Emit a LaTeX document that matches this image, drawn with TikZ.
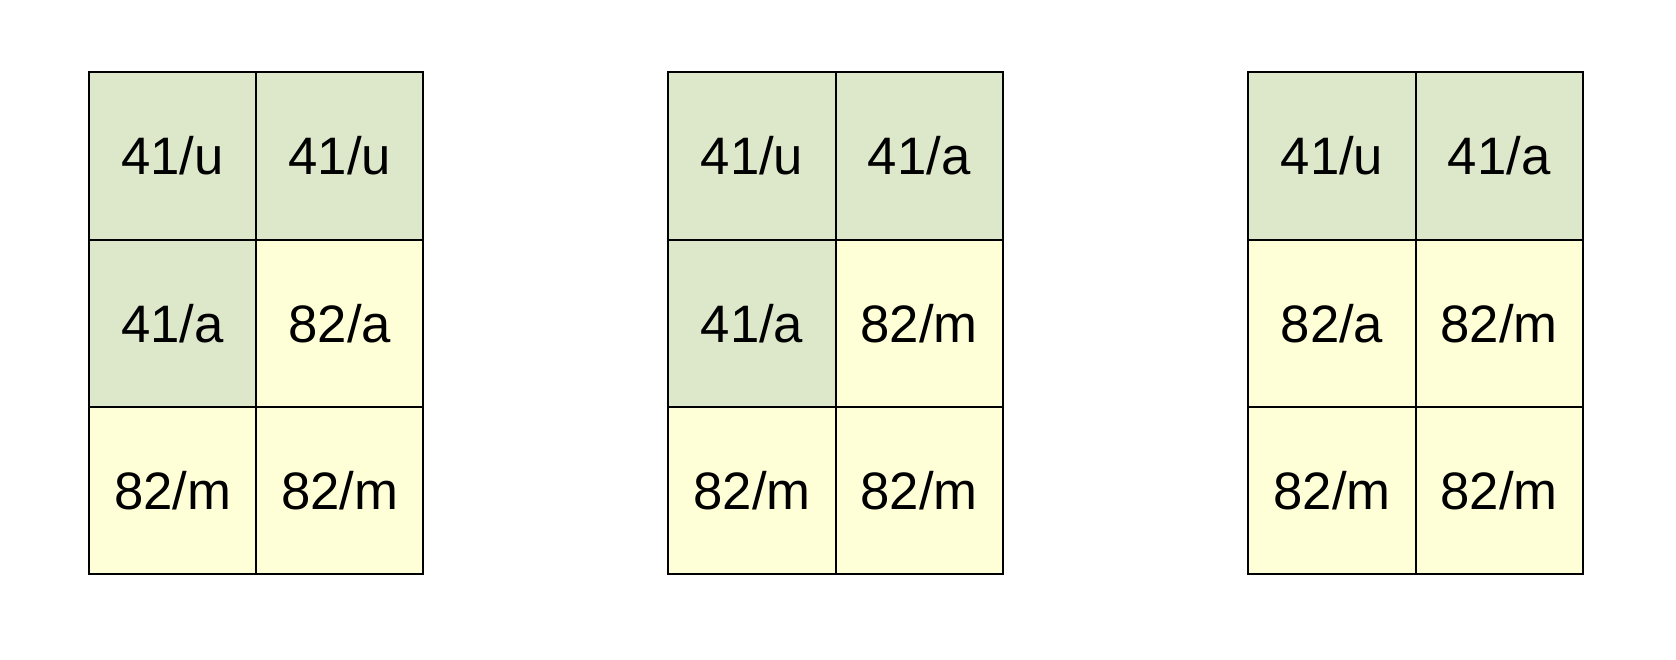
\documentclass[tikz,border=0pt]{standalone}
\usepackage{fontspec}
\setmainfont{Liberation Sans}
\usetikzlibrary{positioning}
\definecolor{cellgreen}{HTML}{DDE8CB}
\definecolor{cellyellow}{HTML}{FFFFD7}

\begin{document}
\begin{tikzpicture}[node distance=3.344cm, auto]
\tikzstyle{cell} = [rectangle, draw, line width=1.2pt, minimum width=3.344cm, minimum height=3.344cm, inner sep=0pt, font=\fontsize{30}{36}\selectfont]
\tikzstyle{green} = [cell, fill=cellgreen]
\tikzstyle{yellow} = [cell, fill=cellyellow]

\useasboundingbox (0,0) rectangle (33.52,13.2);

% first table
\node [green] (aa) at (3.452,10.08) {41/u};
\node [green, right of=aa] (ab) {41/u};
\node [green, below of=aa] (ba) {41/a};
\node [yellow, below of=ab] (bb) {82/a};
\node [yellow, below of=ba] (ca) {82/m};
\node [yellow, below of=bb] (cb) {82/m};

% second table
\node [green] (da) at (15.04,10.08) {41/u};
\node [green, right of=da] (db) {41/a};
\node [green, below of=da] (ea) {41/a};
\node [yellow, below of=db] (eb) {82/m};
\node [yellow, below of=ea] (fa) {82/m};
\node [yellow, below of=eb] (fb) {82/m};

% third table
\node [green] (ga) at (26.64,10.08) {41/u};
\node [green, right of=ga] (gb) {41/a};
\node [yellow, below of=ga] (ha) {82/a};
\node [yellow, below of=gb] (hb) {82/m};
\node [yellow, below of=ha] (ia) {82/m};
\node [yellow, below of=hb] (ib) {82/m};
\end{tikzpicture}
\end{document}
